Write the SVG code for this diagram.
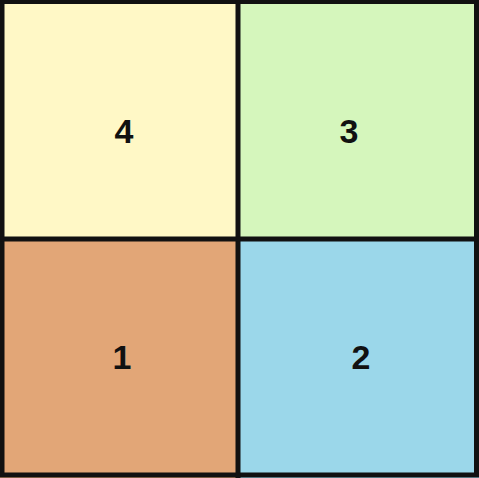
<svg xmlns="http://www.w3.org/2000/svg" width="479" height="478" viewBox="0 0 479 478">
<style>
.cell{stroke:none}
.lbl{font-family:"Liberation Sans",Arial,sans-serif;font-weight:bold;font-size:34px;fill:#111;text-anchor:middle}
.line{stroke:#111;stroke-width:5;fill:none}
</style>
<rect width="479" height="478" fill="#ffffff"/>
<g id="cell4"><rect class="cell" x="0" y="0" width="238" height="239" fill="#fff8c6"/><text class="lbl" x="124" y="143">4</text></g>
<g id="cell3"><rect class="cell" x="238" y="0" width="241" height="239" fill="#d5f6bc"/><text class="lbl" x="349" y="143">3</text></g>
<g id="cell1"><rect class="cell" x="0" y="239" width="238" height="239" fill="#e2a677"/><text class="lbl" x="122" y="369">1</text></g>
<g id="cell2"><rect class="cell" x="238" y="239" width="241" height="239" fill="#9bd7ea"/><text class="lbl" x="361" y="369">2</text></g>
<g id="connectors">
<rect class="line" x="2" y="1.5" width="474.5" height="473.5"/>
<line class="line" x1="238" y1="0" x2="238" y2="478"/>
<line class="line" x1="0" y1="239" x2="479" y2="239"/>
</g>
</svg>
